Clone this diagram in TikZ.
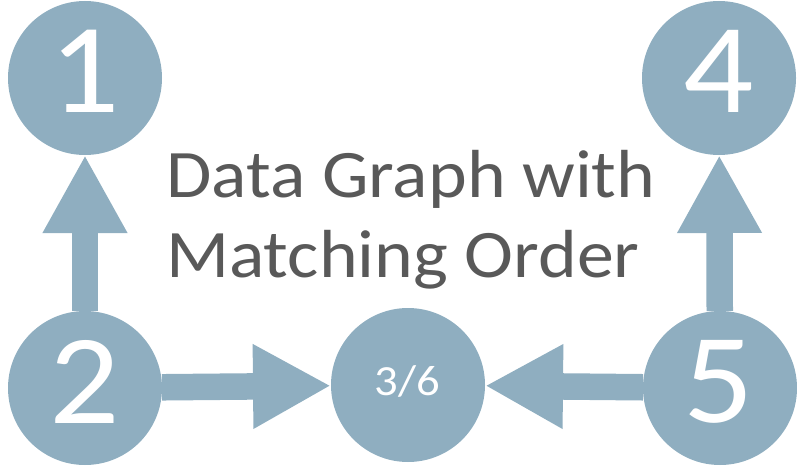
\documentclass[tikz,border=0pt]{standalone}
\usepackage{fontspec}
\setmainfont[FakeStretch=1.085]{Carlito}
\usetikzlibrary{arrows.meta}
\definecolor{nodeblue}{RGB}{143,174,192}
\definecolor{textgray}{RGB}{89,89,89}
\begin{document}
\begin{tikzpicture}[x=1pt,y=-1pt,
  vert/.style={circle, fill=nodeblue, minimum size=154pt, inner sep=0pt, outer sep=0pt},
  num/.style={text=white, font=\fontsize{128}{128}\selectfont, anchor=base, inner sep=0pt},
  small/.style={text=white, font=\fontsize{43}{43}\selectfont, anchor=base, inner sep=0pt},
  title/.style={text=textgray, font=\fontsize{68}{80}\selectfont, anchor=base west, inner sep=0pt},
  edge/.style={draw=nodeblue, line width=26.5pt, -{Triangle[length=78pt,width=79pt]}, fill=nodeblue}
]
\useasboundingbox (0,0) rectangle (797,468);
\node[vert] (n1) at (85,78) {};
\node[vert] (n2) at (85,388) {};
\node[vert] (n3) at (408,385) {};
\node[vert] (n4) at (719,78) {};
\node[vert] (n5) at (720,388) {};
\draw[edge] (n2) -- (n1);
\draw[edge] (n2) -- (n3);
\draw[edge] (n5) -- (n4);
\draw[edge] (n5) -- (n3);
\node[num] (t1) at (85,113) {1};
\node[num] (t2) at (85,423) {2};
\node[num] (t4) at (719,113) {4};
\node[num] (t5) at (719,422) {5};
\node[small] (t3) at (407,395) {3/6};
\node[title] (l1) at (166,197) {Data Graph with};
\node[title] (l2) at (166,277) {Matching Order};
\end{tikzpicture}
\end{document}
